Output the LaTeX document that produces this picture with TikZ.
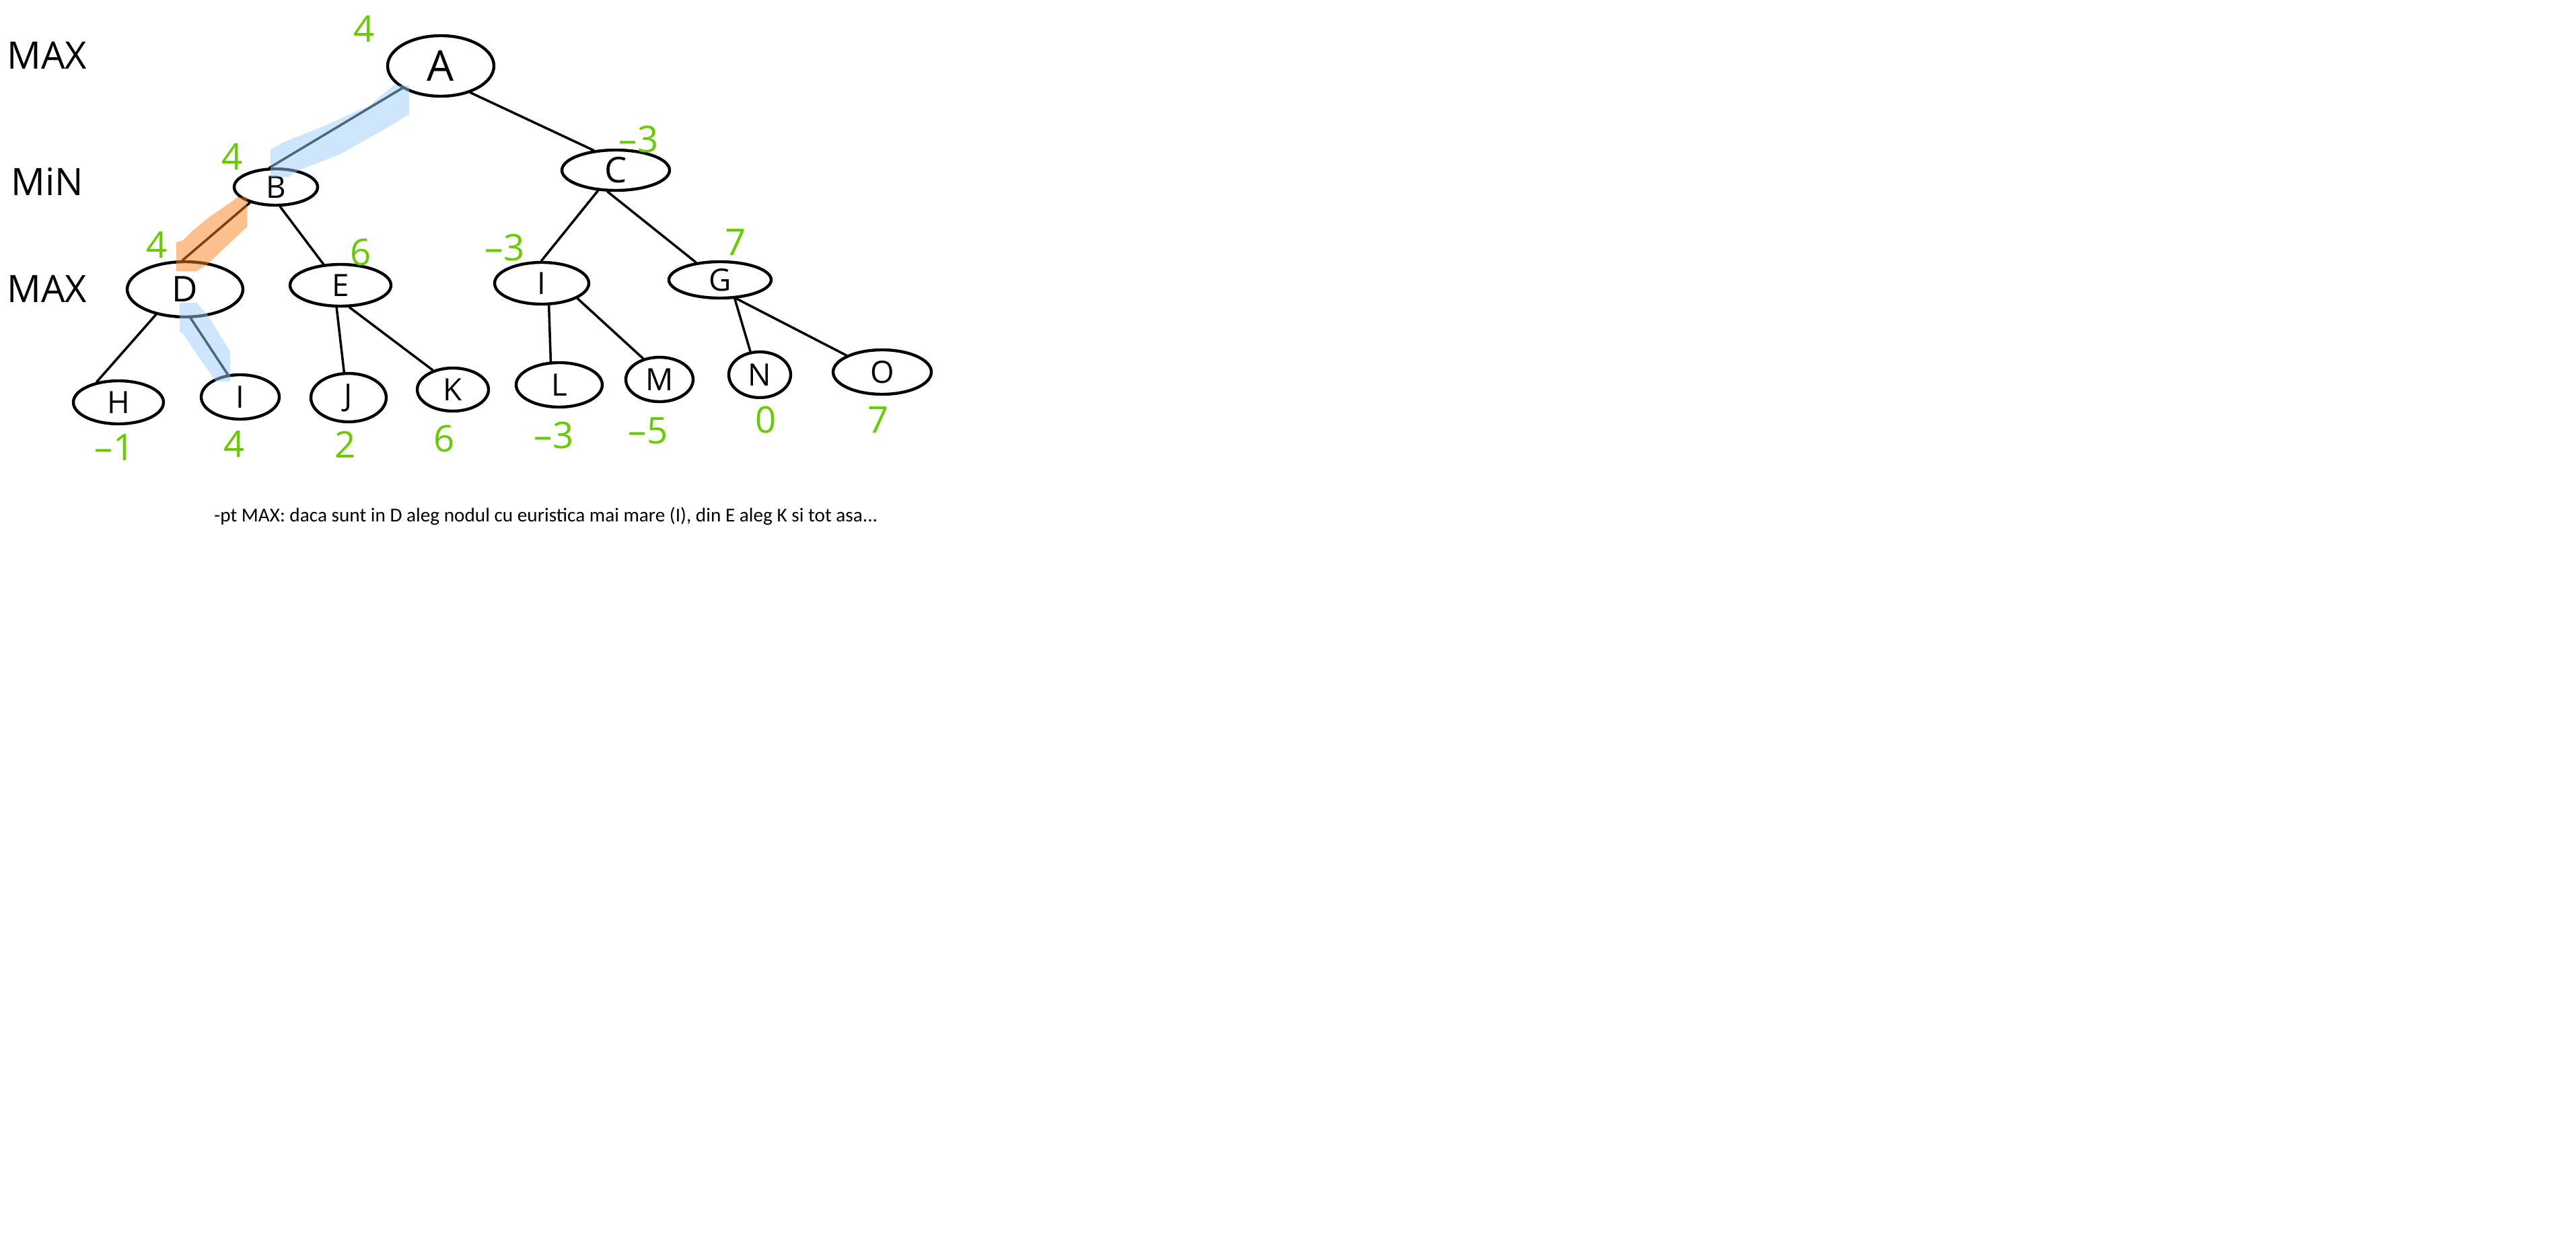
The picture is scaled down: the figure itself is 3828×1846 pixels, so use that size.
\documentclass[tikz,border=0pt]{standalone}
\usepackage{fontspec}
\usepackage{graphicx}
\setmainfont{Open Sans}
\newfontfamily\hand{Open Sans}
\newfontfamily\calib{Carlito}
\usetikzlibrary{shapes.geometric}
\definecolor{valgreen}{RGB}{102,204,0}
\definecolor{hlblue}{RGB}{155,205,250}
\definecolor{hlorange}{RGB}{250,130,30}
\begin{document}
\begin{tikzpicture}[x=0.02cm, y=-0.02cm,
  tnode/.style={ellipse, draw=black, line width=2.5pt, inner sep=0pt,
    font=\hand\fontsize{26}{30}\selectfont},
  edge/.style={line width=2pt, line cap=round, line join=round},
  val/.style={text=valgreen, inner sep=0pt, font=\hand\fontsize{31}{36}\selectfont},
  lvl/.style={inner sep=0pt, font=\hand\fontsize{32}{36}\selectfont},
  hl/.style={fill opacity=0.5}]
\useasboundingbox (0,0) rectangle (3828,1846);

% level names
\node[lvl] (maxA) at (70,82) {MAX};
\node[lvl] (minB) at (70,270) {MiN};
\node[lvl] (maxD) at (70,429) {MAX};

% tree nodes
\node[tnode, minimum width=3.16cm, minimum height=1.8cm, font=\hand\fontsize{36}{40}\selectfont] (A) at (655,98) {A};
\node[tnode, minimum width=2.48cm, minimum height=1.08cm] (B) at (410,278) {B};
\node[tnode, minimum width=3.2cm, minimum height=1.2cm, font=\hand\fontsize{30}{36}\selectfont] (C) at (915,253) {C};
\node[tnode, minimum width=3.44cm, minimum height=1.64cm, font=\hand\fontsize{30}{36}\selectfont] (D) at (275,430) {D};
\node[tnode, minimum width=3.0cm, minimum height=1.24cm] (E) at (506,424) {E};
\node[tnode, minimum width=2.8cm, minimum height=1.24cm] (F) at (805,421) {I};
\node[tnode, minimum width=3.04cm, minimum height=1.08cm] (G) at (1070,416) {G};
\node[tnode, minimum width=2.68cm, minimum height=1.28cm] (H) at (176,598) {H};
\node[tnode, minimum width=2.32cm, minimum height=1.32cm] (I) at (357,590) {I};
\node[tnode, minimum width=2.24cm, minimum height=1.44cm] (J) at (518,591) {J};
\node[tnode, minimum width=2.12cm, minimum height=1.28cm] (K) at (673,579) {K};
\node[tnode, minimum width=2.56cm, minimum height=1.32cm] (L) at (831,572) {L};
\node[tnode, minimum width=2.0cm, minimum height=1.32cm] (M) at (980,564) {M};
\node[tnode, minimum width=1.84cm, minimum height=1.36cm] (N) at (1129,557) {N};
\node[tnode, minimum width=2.92cm, minimum height=1.32cm] (O) at (1311,553) {O};

% connectors
\draw[edge] (A.210) -- (B.108);
\draw[edge] (A.318) -- (C.138);
\draw[edge] (B.211) -- (D.95);
\draw[edge] (B.282) -- (E.129);
\draw[edge] (C.229) -- (F.91);
\draw[edge] (C.249) -- (G.144);
\draw[edge] (D.221) -- (H.137);
\draw[edge] (D.281) -- (I.119);
\draw[edge] (E.260) -- (J.100);
\draw[edge] (E.292) -- (K.136);
\draw[edge] (F.288) -- (L.110);
\draw[edge] (F.337) -- (M.128);
\draw[edge] (G.308) -- (N.112);
\draw[edge] (G.311) -- (O.155);

% minimax values
\node[val] (vA) at (541,43) {4};
\node[val] (vB) at (345,233) {4};
\node[val] (vC) at (949,207) {–3};
\node[val] (vD) at (233,364) {4};
\node[val] (vE) at (536,375) {6};
\node[val] (vF) at (750,368) {–3};
\node[val] (vG) at (1093,360) {7};
\node[val] (vH) at (170,665) {–1};
\node[val] (vI) at (348,660) {4};
\node[val] (vJ) at (513,661) {2};
\node[val] (vK) at (660,652) {6};
\node[val] (vL) at (823,647) {–3};
\node[val] (vM) at (963,640) {–5};
\node[val] (vN) at (1138,624) {0};
\node[val] (vO) at (1305,624) {7};

% highlighted path
\fill[hlblue, hl] (402,222) -- (420,212) -- (482,187) -- (549,157) -- (585,127) -- (608,127)
  -- (608,170) -- (580,187) -- (504,230) -- (446,252) -- (429,263) -- (402,263) -- cycle;
\fill[hlorange, hl] (262,360) -- (272,357) -- (286,343) -- (312,322) -- (344,300) -- (353,293)
  -- (367,293) -- (367,337) -- (308,393) -- (292,403) -- (262,403) -- cycle;
\fill[hlblue, hl] (267,450) -- (292,450) -- (308,467) -- (328,500) -- (342,522) -- (342,567)
  -- (321,567) -- (295,530) -- (273,497) -- (267,493) -- cycle;

% note
\node[anchor=west, inner sep=0pt] (note) at (318,767)
  {\resizebox{19.72cm}{!}{\calib -pt MAX: daca sunt in D aleg nodul cu euristica mai mare (I), din E aleg K si tot asa...}};
\end{tikzpicture}
\end{document}
